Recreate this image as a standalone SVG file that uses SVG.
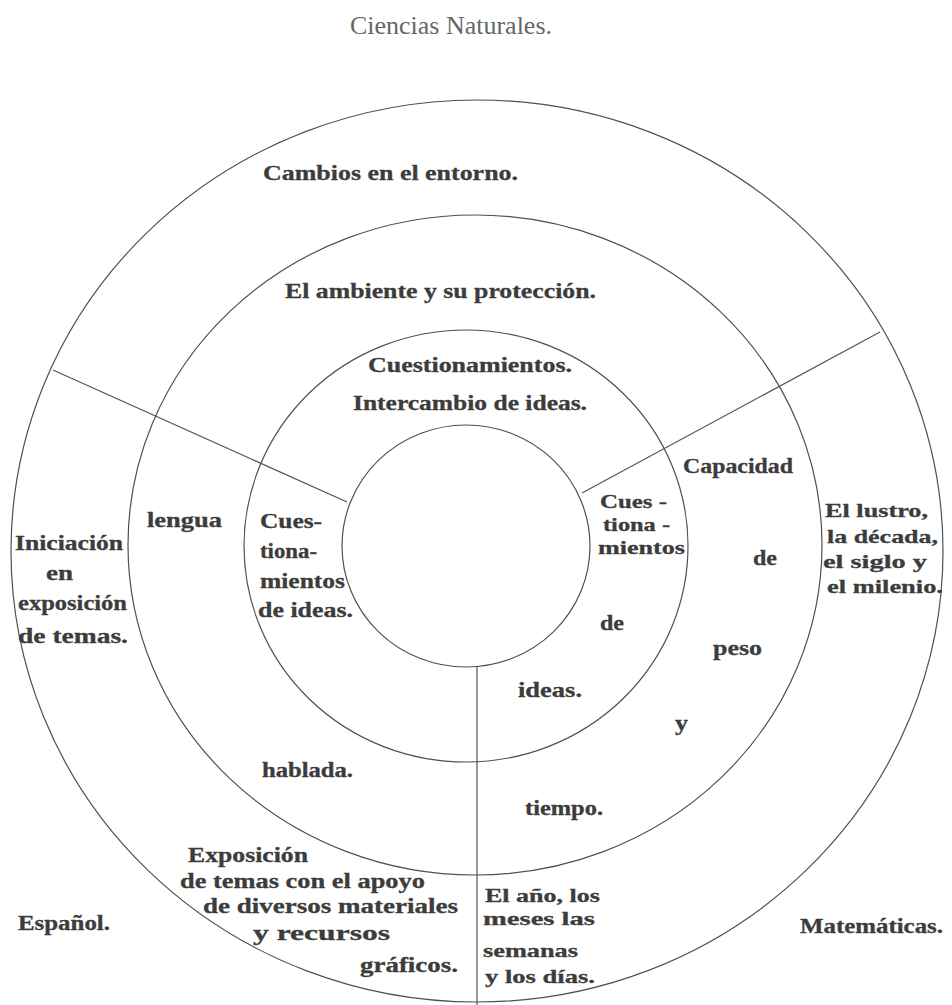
<svg xmlns="http://www.w3.org/2000/svg" width="952" height="1005" viewBox="0 0 952 1005">
<style>
.ring{fill:none;stroke:#505050;stroke-width:1.2}
.div{fill:none;stroke:#555;stroke-width:1.2}
.t{font-family:"Liberation Serif","DejaVu Serif",serif;font-weight:bold;font-size:20px;fill:#3c3c3c;stroke:#3c3c3c;stroke-width:0.3}
.s{font-size:19px}
.c{font-size:22px}
.title{font-family:"Liberation Serif",serif;font-size:26px;fill:#666}
</style>
<rect width="952" height="1005" fill="#fff"/>
<text id="title" class="title" x="350" y="34" textLength="202" lengthAdjust="spacingAndGlyphs">Ciencias Naturales.</text>
<g id="rings">
<ellipse id="ring-outer" class="ring" cx="477" cy="551" rx="466" ry="451"/>
<ellipse id="ring-middle" class="ring" cx="475" cy="545" rx="347" ry="330"/>
<ellipse id="ring-third" class="ring" cx="466" cy="546" rx="222" ry="216"/>
<ellipse id="ring-inner" class="ring" cx="466" cy="546" rx="124" ry="121"/>
</g>
<g id="connectors">
<line class="div" x1="53" y1="370" x2="347" y2="502"/>
<line class="div" x1="582" y1="493" x2="880" y2="332"/>
<line class="div" x1="477" y1="667" x2="477" y2="1005"/>
</g>
<g id="ciencias-outer"><text class="t c" x="263" y="180" textLength="255" lengthAdjust="spacingAndGlyphs">Cambios en el entorno.</text></g>
<g id="ciencias-middle"><text class="t c" x="285" y="298" textLength="311" lengthAdjust="spacingAndGlyphs">El ambiente y su protección.</text></g>
<g id="ciencias-third">
<text class="t" x="368" y="372" textLength="204" lengthAdjust="spacingAndGlyphs">Cuestionamientos.</text>
<text class="t" x="353" y="410" textLength="234" lengthAdjust="spacingAndGlyphs">Intercambio de ideas.</text>
</g>
<g id="espanol-outer">
<text class="t" x="15" y="550" textLength="108" lengthAdjust="spacingAndGlyphs">Iniciación</text>
<text class="t" x="46" y="580" textLength="27" lengthAdjust="spacingAndGlyphs">en</text>
<text class="t" x="18" y="610" textLength="109" lengthAdjust="spacingAndGlyphs">exposición</text>
<text class="t" x="18" y="643" textLength="110" lengthAdjust="spacingAndGlyphs">de temas.</text>
</g>
<g id="espanol-middle">
<text class="t" x="147" y="527" textLength="75" lengthAdjust="spacingAndGlyphs">lengua</text>
<text class="t" x="262" y="777" textLength="91" lengthAdjust="spacingAndGlyphs">hablada.</text>
</g>
<g id="espanol-third">
<text class="t" x="260" y="528" textLength="62" lengthAdjust="spacingAndGlyphs">Cues-</text>
<text class="t" x="260" y="558" textLength="57" lengthAdjust="spacingAndGlyphs">tiona-</text>
<text class="t" x="260" y="588" textLength="85" lengthAdjust="spacingAndGlyphs">mientos</text>
<text class="t" x="258" y="617" textLength="95" lengthAdjust="spacingAndGlyphs">de ideas.</text>
</g>
<g id="espanol-bottom">
<text class="t" x="188" y="862" textLength="120" lengthAdjust="spacingAndGlyphs">Exposición</text>
<text class="t" x="180" y="888" textLength="245" lengthAdjust="spacingAndGlyphs">de  temas con el apoyo</text>
<text class="t" x="203" y="913" textLength="255" lengthAdjust="spacingAndGlyphs">de  diversos materiales</text>
<text class="t" x="253" y="940" textLength="137" lengthAdjust="spacingAndGlyphs">y    recursos</text>
<text class="t" x="360" y="972" textLength="98" lengthAdjust="spacingAndGlyphs">gráficos.</text>
</g>
<g id="espanol-label"><text class="t" x="18" y="930" textLength="92" lengthAdjust="spacingAndGlyphs">Español.</text></g>
<g id="mate-third">
<text class="t s" x="600" y="508" textLength="67" lengthAdjust="spacingAndGlyphs">Cues -</text>
<text class="t s" x="603" y="531" textLength="67" lengthAdjust="spacingAndGlyphs">tiona -</text>
<text class="t s" x="598" y="554" textLength="87" lengthAdjust="spacingAndGlyphs">mientos</text>
<text class="t" x="600" y="630" textLength="24" lengthAdjust="spacingAndGlyphs">de</text>
<text class="t" x="518" y="697" textLength="64" lengthAdjust="spacingAndGlyphs">ideas.</text>
</g>
<g id="mate-middle">
<text class="t" x="683" y="473" textLength="110" lengthAdjust="spacingAndGlyphs">Capacidad</text>
<text class="t" x="753" y="565" textLength="24" lengthAdjust="spacingAndGlyphs">de</text>
<text class="t" x="713" y="655" textLength="49" lengthAdjust="spacingAndGlyphs">peso</text>
<text class="t" x="675" y="730" textLength="13" lengthAdjust="spacingAndGlyphs">y</text>
<text class="t" x="525" y="815" textLength="78" lengthAdjust="spacingAndGlyphs">tiempo.</text>
</g>
<g id="mate-outer">
<text class="t s" x="825" y="517" textLength="103" lengthAdjust="spacingAndGlyphs">El lustro,</text>
<text class="t s" x="827" y="543" textLength="111" lengthAdjust="spacingAndGlyphs">la década,</text>
<text class="t s" x="823" y="568" textLength="104" lengthAdjust="spacingAndGlyphs">el siglo y</text>
<text class="t s" x="827" y="593" textLength="116" lengthAdjust="spacingAndGlyphs">el milenio.</text>
</g>
<g id="mate-bottom">
<text class="t s" x="485" y="902" textLength="115" lengthAdjust="spacingAndGlyphs">El año, los</text>
<text class="t s" x="483" y="925" textLength="112" lengthAdjust="spacingAndGlyphs">meses  las</text>
<text class="t s" x="483" y="957" textLength="95" lengthAdjust="spacingAndGlyphs">semanas</text>
<text class="t s" x="485" y="983" textLength="110" lengthAdjust="spacingAndGlyphs">y los días.</text>
</g>
<g id="mate-label"><text class="t" x="800" y="933" textLength="143" lengthAdjust="spacingAndGlyphs">Matemáticas.</text></g>
</svg>
